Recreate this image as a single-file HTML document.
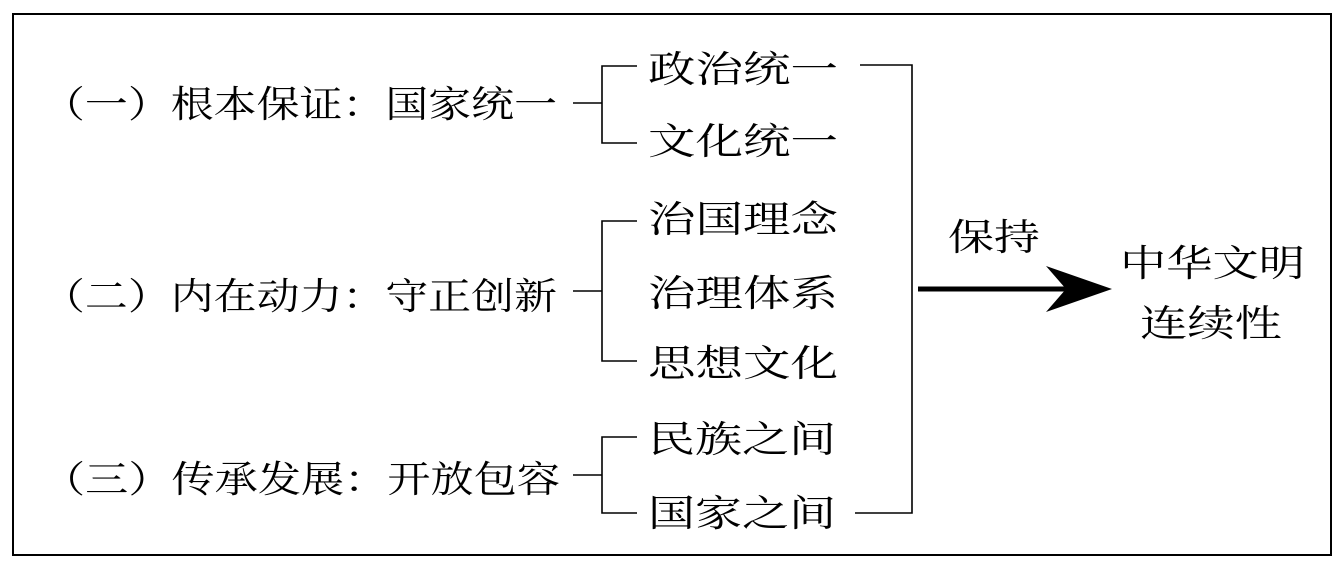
<!DOCTYPE html>
<html><head><meta charset="utf-8"><style>
html,body{margin:0;padding:0;background:#fff;}
svg text{font-family:"Noto Serif CJK SC","Noto Sans CJK SC",serif;fill:#000;}
</style></head><body>
<svg width="1344" height="570" viewBox="0 0 1344 570" xmlns="http://www.w3.org/2000/svg">
<rect x="13" y="14" width="1318" height="541" fill="none" stroke="#000" stroke-width="2"/>
<g font-size="37">
<text x="42" y="117" textLength="515" lengthAdjust="spacingAndGlyphs">（一）根本保证：国家统一</text>
<text x="42" y="309" textLength="515" lengthAdjust="spacingAndGlyphs">（二）内在动力：守正创新</text>
<text x="42" y="492" textLength="518" lengthAdjust="spacingAndGlyphs">（三）传承发展：开放包容</text>
<text x="648" y="82" textLength="190" lengthAdjust="spacingAndGlyphs">政治统一</text>
<text x="648" y="154" textLength="190" lengthAdjust="spacingAndGlyphs">文化统一</text>
<text x="648" y="232" textLength="190" lengthAdjust="spacingAndGlyphs">治国理念</text>
<text x="648" y="306" textLength="190" lengthAdjust="spacingAndGlyphs">治理体系</text>
<text x="648" y="376" textLength="190" lengthAdjust="spacingAndGlyphs">思想文化</text>
<text x="648" y="452" textLength="188" lengthAdjust="spacingAndGlyphs">民族之间</text>
<text x="648" y="526" textLength="188" lengthAdjust="spacingAndGlyphs">国家之间</text>
<text x="948" y="250" textLength="92" lengthAdjust="spacingAndGlyphs">保持</text>
<text x="1120" y="276" textLength="185" lengthAdjust="spacingAndGlyphs">中华文明</text>
<text x="1140" y="336" textLength="142" lengthAdjust="spacingAndGlyphs">连续性</text>
</g>
<g fill="none" stroke="#000" stroke-width="1.6">
<path d="M573 103H602M637 66H602V143H637"/>
<path d="M573 291H602M637 221H602V361H637"/>
<path d="M573 475H602M637 437H602V513H637"/>
<path d="M860 65H912V513H855"/>
</g>
<line x1="918" y1="289" x2="1070" y2="289" stroke="#000" stroke-width="5"/>
<path d="M1112 289L1046 266L1066 289L1046 312Z" fill="#000"/>
</svg>
</body></html>
